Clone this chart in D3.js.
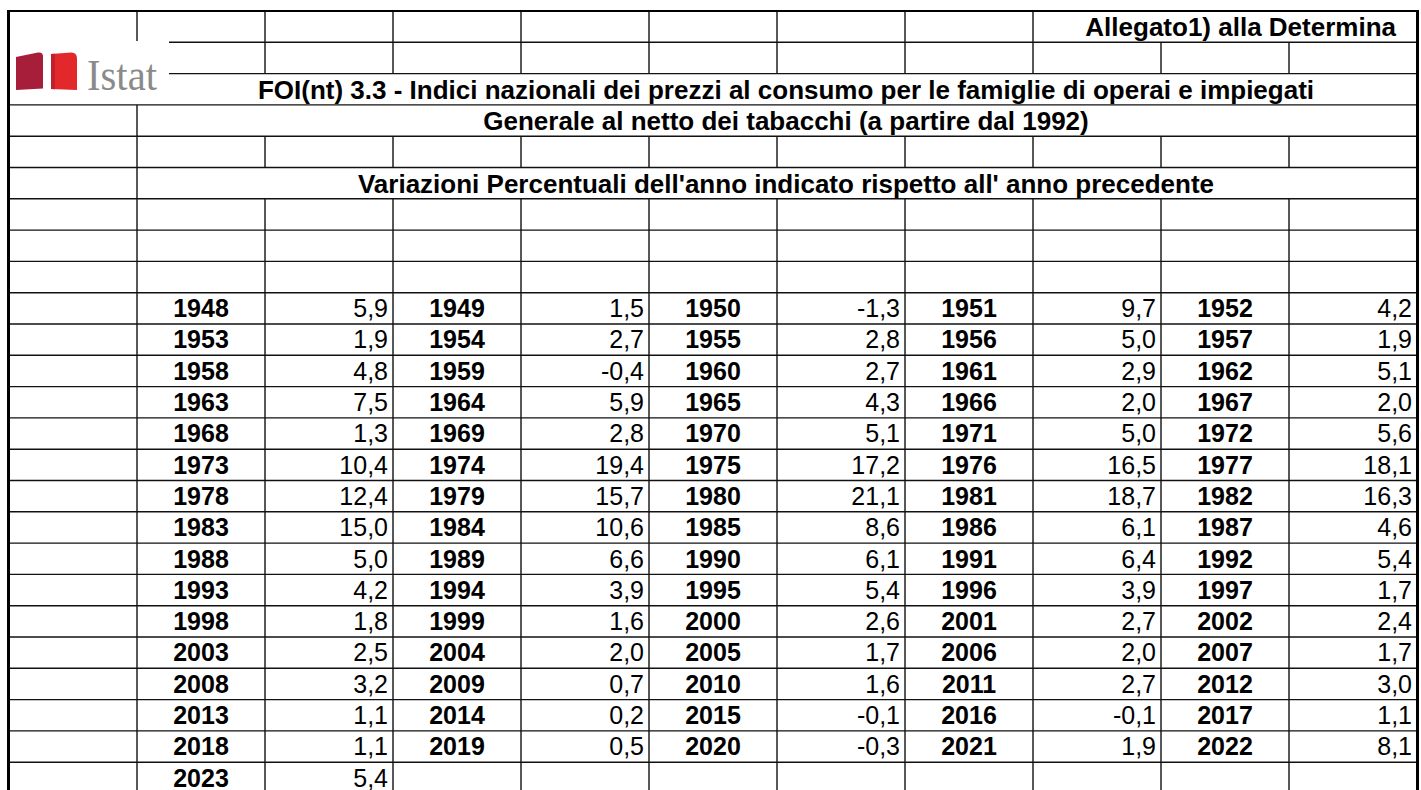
<!DOCTYPE html>
<html>
<head>
<meta charset="utf-8">
<script src="https://cdn.jsdelivr.net/npm/d3@7"></script>
<style>
  body { margin: 0; background: #fff; }
  text { font-family: "Liberation Sans", Arial, sans-serif; }
</style>
</head>
<body>
<svg width="1421" height="790"></svg>
<script>
// header texts
var topNote = "Allegato1) alla Determina";
var title = "FOI(nt) 3.3 - Indici nazionali dei prezzi al consumo per le famiglie di operai e impiegati";
var subtitle = "Generale al netto dei tabacchi (a partire dal 1992)";
var caption = "Variazioni Percentuali dell'anno indicato rispetto all' anno precedente";

// years and percentage changes
var years = [1948,1949,1950,1951,1952,1953,1954,1955,1956,1957,
             1958,1959,1960,1961,1962,1963,1964,1965,1966,1967,
             1968,1969,1970,1971,1972,1973,1974,1975,1976,1977,
             1978,1979,1980,1981,1982,1983,1984,1985,1986,1987,
             1988,1989,1990,1991,1992,1993,1994,1995,1996,1997,
             1998,1999,2000,2001,2002,2003,2004,2005,2006,2007,
             2008,2009,2010,2011,2012,2013,2014,2015,2016,2017,
             2018,2019,2020,2021,2022,2023];
var values = [5.9,1.5,-1.3,9.7,4.2, 1.9,2.7,2.8,5.0,1.9,
              4.8,-0.4,2.7,2.9,5.1, 7.5,5.9,4.3,2.0,2.0,
              1.3,2.8,5.1,5.0,5.6, 10.4,19.4,17.2,16.5,18.1,
              12.4,15.7,21.1,18.7,16.3, 15.0,10.6,8.6,6.1,4.6,
              5.0,6.6,6.1,6.4,5.4, 4.2,3.9,5.4,3.9,1.7,
              1.8,1.6,2.6,2.7,2.4, 2.5,2.0,1.7,2.0,1.7,
              3.2,0.7,1.6,2.7,3.0, 1.1,0.2,-0.1,-0.1,1.1,
              1.1,0.5,-0.3,1.9,8.1, 5.4];

var svg = d3.select("svg");

var perRow = 5, firstDataRow = 9, nRows = 26;
var x = d3.scaleLinear().domain([1, 11]).range([137, 1417]);
var y = d3.scaleLinear().domain([0, nRows]).range([11, 11 + nRows * 31.3]);
var rowH = y(1) - y(0);
var fmt = function(v) { return d3.format(".1f")(v).replace(".", ",").replace("−", "-"); };

// grid lines
var grid = svg.append("g").attr("stroke", "#111").attr("stroke-width", 1.4);
d3.range(1, nRows).forEach(function(r) {
  grid.append("line")
    .attr("x1", (r == 1 || r == 2) ? 169 : 10).attr("x2", 1417)
    .attr("y1", y(r)).attr("y2", y(r));
});
function skip(r, c) {
  if (r == 0) return c >= 9;
  if (r == 2) return true;
  if (r == 3 || r == 5) return c >= 2;
  return false;
}
d3.range(0, nRows).forEach(function(r) {
  d3.range(1, 11).forEach(function(c) {
    if (skip(r, c)) return;
    grid.append("line")
      .attr("x1", x(c)).attr("x2", x(c))
      .attr("y1", y(r)).attr("y2", y(r + 1));
  });
});

// logo
var logo = svg.append("g");
logo.append("rect").attr("x", 11).attr("y", 41).attr("width", 158).attr("height", 62).attr("fill", "#fff");
logo.append("path").attr("d", "M16,57 L38,52.5 Q43,51.8 43,56.5 L43,88.5 L16,90 Z").attr("fill", "#a61e3a");
logo.append("path").attr("d", "M51,54 L71,52.5 Q77,52.3 77,58.5 L77,90 L51,89 Z").attr("fill", "#e3282b");
logo.append("path").attr("d", "M51,54 L55,53.7 L55,89.2 L51,89 Z").attr("fill", "#c21f2c");
logo.append("text").attr("x", 87).attr("y", 90)
  .attr("textLength", 70).attr("lengthAdjust", "spacingAndGlyphs")
  .style("font-family", "'Liberation Serif', 'Times New Roman', serif")
  .style("font-size", "44px").attr("fill", "#8a8a8a").text("Istat");

// outer border
var border = svg.append("g").attr("stroke", "#000").attr("fill", "none");
border.append("line").attr("x1", 7).attr("x2", 1419).attr("y1", y(0)).attr("y2", y(0)).attr("stroke-width", 2);
border.append("line").attr("x1", 8.5).attr("x2", 8.5).attr("y1", 10).attr("y2", 790).attr("stroke-width", 3);
border.append("line").attr("x1", 1417.5).attr("x2", 1417.5).attr("y1", 10).attr("y2", 790).attr("stroke-width", 3);

// header texts
var fs = 26;
function header(txt, r, xp, anchor) {
  svg.append("text").attr("x", xp).attr("y", y(r) + rowH / 2 + fs * 0.36)
    .attr("text-anchor", anchor).style("font-weight", "bold").style("font-size", fs + "px")
    .attr("fill", "#000").text(txt);
}
header(topNote, 0, 1396, "end");
header(title, 2, 786, "middle");
header(subtitle, 3, 786, "middle");
header(caption, 5, 786, "middle");

// data cells
var cells = svg.append("g").selectAll("g").data(years).enter().append("g");
cells.append("text")
  .attr("x", function(d, i) { return (x(1 + 2 * (i % perRow)) + x(2 + 2 * (i % perRow))) / 2; })
  .attr("y", function(d, i) { return y(firstDataRow + Math.floor(i / perRow)) + rowH / 2 + fs * 0.34; })
  .attr("text-anchor", "middle").style("font-weight", "bold").style("font-size", (fs - 1) + "px")
  .text(function(d) { return d; });
cells.append("text")
  .attr("x", function(d, i) { return x(3 + 2 * (i % perRow)) - 5; })
  .attr("y", function(d, i) { return y(firstDataRow + Math.floor(i / perRow)) + rowH / 2 + fs * 0.34; })
  .attr("text-anchor", "end").style("font-size", (fs - 1) + "px")
  .text(function(d, i) { return fmt(values[i]); });
</script>
</body>
</html>
